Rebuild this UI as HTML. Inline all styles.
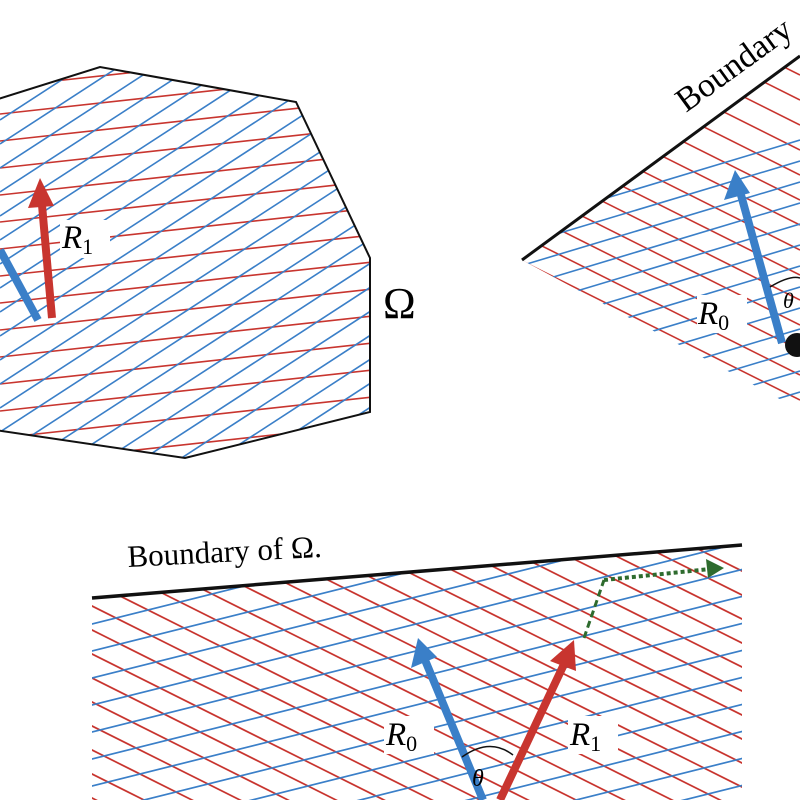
<!DOCTYPE html>
<html><head><meta charset="utf-8"><style>
html,body{margin:0;padding:0;background:#fff;width:800px;height:800px;overflow:hidden}
svg{display:block;overflow:hidden}
text{font-family:"Liberation Serif",serif}
</style></head><body>
<svg id="s" width="800" height="800" viewBox="0 0 800 800" xmlns="http://www.w3.org/2000/svg">
<defs>
<clipPath id="c1"><polygon points="-5,100 100,67 296,102 370,258 370,412 185,458 -5,430"/></clipPath>
<clipPath id="c2"><polygon points="522,260 800,55 800,410"/></clipPath>
<clipPath id="c3"><polygon points="92,598 742,545 742,800 92,800"/></clipPath>
<clipPath id="all"><rect x="0" y="0" width="800" height="800"/></clipPath>
</defs>
<g clip-path="url(#all)">
<g id="g1" clip-path="url(#c1)"></g>
<g id="g2" clip-path="url(#c2)"></g>
<g id="g3" clip-path="url(#c3)"></g>
<polyline points="-5,100 100,67 296,102 370,258 370,412 185,458 -5,430" fill="none" stroke="#111" stroke-width="2"/>
<line x1="522" y1="260" x2="800" y2="56" stroke="#111" stroke-width="3"/>
<line x1="92" y1="598" x2="742" y2="545" stroke="#111" stroke-width="3.5"/>

<line x1="38" y1="320" x2="0" y2="250" stroke="#3a7fc8" stroke-width="8"/>
<line x1="52" y1="318" x2="42" y2="205" stroke="#c8352f" stroke-width="8"/>
<polygon points="40,178 28,208 54,206" fill="#c8352f"/>
<rect x="60" y="220" width="50" height="38" fill="#fff"/>
<text x="62" y="248" font-size="33" font-style="italic">R<tspan font-size="22" font-style="normal" dy="6">1</tspan></text>
<text x="383" y="318" font-size="44">Ω</text>

<line x1="782" y1="343" x2="741" y2="195" stroke="#3a7fc8" stroke-width="8"/>
<polygon points="735,170 724,200 750,193" fill="#3a7fc8"/>
<path d="M770,287 Q790,275 800,278" fill="none" stroke="#111" stroke-width="1.5"/>
<rect x="697" y="295" width="50" height="38" fill="#fff"/>
<text x="698" y="324" font-size="33" font-style="italic">R<tspan font-size="22" font-style="normal" dy="6">0</tspan></text>
<text x="783" y="308" font-size="22" font-style="italic">θ</text>
<circle cx="797" cy="345" r="12" fill="#111"/>
<text x="0" y="0" font-size="34" transform="translate(686,113) rotate(-36)">Boundary</text>

<text x="0" y="0" font-size="31" transform="translate(128,567) rotate(-3)">Boundary of Ω.</text>
<line x1="483" y1="800" x2="425" y2="660" stroke="#3a7fc8" stroke-width="8"/>
<polygon points="418,638 411,668 437,657" fill="#3a7fc8"/>
<line x1="500" y1="800" x2="566" y2="660" stroke="#c8352f" stroke-width="8"/>
<polygon points="574,640 550,661 576,671" fill="#c8352f"/>
<path d="M462,757 Q490,737 513,755" fill="none" stroke="#111" stroke-width="1.5"/>
<rect x="384" y="716" width="50" height="38" fill="#fff"/>
<text x="386" y="745" font-size="33" font-style="italic">R<tspan font-size="22" font-style="normal" dy="6">0</tspan></text>
<rect x="568" y="716" width="50" height="38" fill="#fff"/>
<text x="570" y="745" font-size="33" font-style="italic">R<tspan font-size="22" font-style="normal" dy="6">1</tspan></text>
<text x="472" y="786" font-size="24" font-style="italic">θ</text>
<line x1="584" y1="638" x2="604" y2="580" stroke="#2e6b2e" stroke-width="3" stroke-dasharray="7,4"/>
<line x1="604" y1="580" x2="710" y2="569" stroke="#2e6b2e" stroke-width="4" stroke-dasharray="4,3"/>
<polygon points="724,568 706,559 708,578" fill="#2e6b2e"/>
</g>
</svg>
<script>
var NS="http://www.w3.org/2000/svg";
function fam(g,color,slope,step,from,to,w){
  var el=document.getElementById(g);
  for(var b=from;b<=to;b+=step){
    var l=document.createElementNS(NS,"line");
    l.setAttribute("x1",0);l.setAttribute("y1",b);
    l.setAttribute("x2",800);l.setAttribute("y2",b+slope*800);
    l.setAttribute("stroke",color);l.setAttribute("stroke-width",w||1.6);
    el.appendChild(l);
  }
}
var R="#c8352f",B="#3a7fc8";
fam("g1",R,-0.11,27,60,540);
fam("g1",B,-0.65,24,0,800);
fam("g2",R,0.5,25,-450,300);
fam("g2",B,-0.3,21,380,720);
fam("g3",R,0.5,24,200,800,1.7);
fam("g3",B,-0.25,27,620,1000,1.7);
</script>
</body></html>
